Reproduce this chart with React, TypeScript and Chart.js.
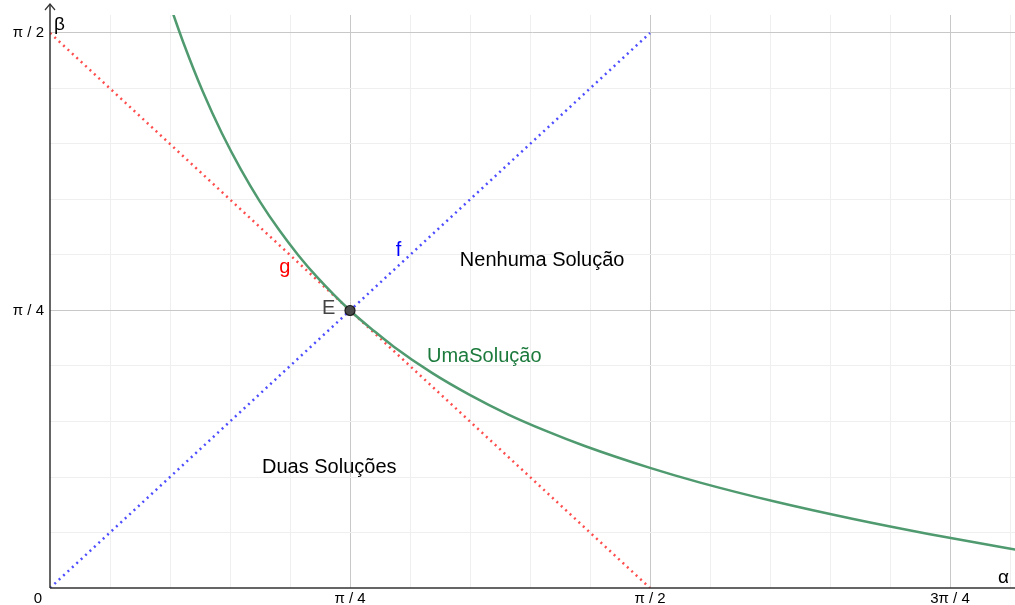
import React, { useEffect, useRef } from "react";
import { Chart, registerables } from "chart.js";

Chart.register(...registerables);

const PI = Math.PI;

// Curve "UmaSolução" (alpha, beta)
const curveAlpha = [0.32, 0.35, 0.4, 0.45, 0.5, 0.55, 0.6, 0.65, 0.7, 0.7854, 0.85, 0.9, 1.0, 1.1, 1.2, 1.3, 1.4, 1.5708, 1.7, 1.9, 2.1, 2.3, 2.5, 2.55];
const curveBeta = [1.632, 1.541, 1.405, 1.287, 1.184, 1.093, 1.013, 0.942, 0.879, 0.7854, 0.726, 0.683, 0.609, 0.546, 0.491, 0.444, 0.402, 0.34, 0.299, 0.244, 0.196, 0.153, 0.114, 0.104];

// Line f: beta = alpha
const fAlpha = [0, 1.5708];
const fBeta = [0, 1.5708];
// Line g: beta = pi/2 - alpha
const gAlpha = [0, 1.5708];
const gBeta = [1.5708, 0];

// Point E
const pointE = { x: 0.7854, y: 0.7854 };

// Tick labels
const xTickValues = [0, PI / 4, PI / 2, (3 * PI) / 4];
const xTickLabels = ["0", "π / 4", "π / 2", "3π / 4"];
const yTickValues = [PI / 4, PI / 2];
const yTickLabels = ["π / 4", "π / 2"];
const gridStep = PI / 20;

// Text annotations (value coordinates, left edge / vertical middle)
const annotations = [
  { text: "Nenhuma Solução", x: 1.073, y: 0.928, color: "#000000" },
  { text: "UmaSolução", x: 0.987, y: 0.654, color: "#1b7a3c" },
  { text: "Duas Soluções", x: 0.555, y: 0.342, color: "#000000" },
  { text: "f", x: 0.905, y: 0.954, color: "#0000ff" },
  { text: "g", x: 0.6, y: 0.906, color: "#ff0000" },
  { text: "E", x: 0.712, y: 0.79, color: "#444444" },
];

const X_MAX = (965 / 300) * (PI / 4);
const Y_MAX = (573 / 277.5) * (PI / 4);

export default function App() {
  const ref = useRef<HTMLCanvasElement | null>(null);

  useEffect(() => {
    document.body.style.margin = "0";
    const canvas = ref.current!;
    const font = "'Liberation Sans', Arial, sans-serif";

    const overlay = {
      id: "overlay",
      afterDatasetsDraw(chart: any) {
        const ctx = chart.ctx;
        const xs = chart.scales.x;
        const ys = chart.scales.y;
        const ox = xs.getPixelForValue(0);
        const oy = ys.getPixelForValue(0);
        ctx.save();
        // axes
        ctx.strokeStyle = "#333333";
        ctx.lineWidth = 1.5;
        ctx.beginPath();
        ctx.moveTo(ox, oy);
        ctx.lineTo(chart.width, oy);
        ctx.moveTo(ox, oy);
        ctx.lineTo(ox, 4);
        ctx.stroke();
        ctx.lineWidth = 1.2;
        ctx.beginPath();
        ctx.moveTo(ox - 5, 10);
        ctx.lineTo(ox, 4);
        ctx.lineTo(ox + 5, 10);
        ctx.stroke();
        // tick labels
        ctx.fillStyle = "#000000";
        ctx.font = `15px ${font}`;
        ctx.textAlign = "center";
        ctx.textBaseline = "middle";
        xTickValues.forEach((v, i) => {
          const px = xs.getPixelForValue(v);
          ctx.fillText(xTickLabels[i], i === 0 ? ox - 12 : px, oy + 11);
        });
        ctx.textAlign = "right";
        yTickValues.forEach((v, i) => {
          ctx.fillText(yTickLabels[i], ox - 6, ys.getPixelForValue(v));
        });
        // axis names
        ctx.font = `19px ${font}`;
        ctx.textAlign = "left";
        ctx.fillText("α", 998, oy - 10);
        ctx.fillText("β", ox + 4, 25);
        // annotations
        annotations.forEach((a) => {
          ctx.fillStyle = a.color;
          ctx.font = `20px ${font}`;
          ctx.textAlign = "left";
          ctx.textBaseline = "middle";
          ctx.fillText(a.text, xs.getPixelForValue(a.x), ys.getPixelForValue(a.y));
        });
        ctx.restore();
      },
    };

    const makeGridTicks = (scale: any, max: number) => {
      const ticks: any[] = [];
      for (let k = 0; k * gridStep <= max + 1e-9; k++) ticks.push({ value: k * gridStep });
      scale.ticks = ticks;
    };
    const gridColor = (c: any) => {
      const v = c.tick ? c.tick.value : 0;
      const r = v / (PI / 4);
      if (Math.abs(v) < 1e-9) return "rgba(0,0,0,0)";
      return Math.abs(r - Math.round(r)) < 1e-6 ? "#c8c8c8" : "#efefef";
    };

    const chart = new Chart(canvas, {
      type: "scatter",
      data: {
        datasets: [
          {
            label: "g",
            data: gAlpha.map((x, i) => ({ x, y: gBeta[i] })),
            showLine: true,
            borderColor: "#ff4d4d",
            borderWidth: 2.5,
            borderDash: [2, 4],
            pointRadius: 0,
            order: 3,
          },
          {
            label: "f",
            data: fAlpha.map((x, i) => ({ x, y: fBeta[i] })),
            showLine: true,
            borderColor: "#4d4dff",
            borderWidth: 2.5,
            borderDash: [2, 4],
            pointRadius: 0,
            order: 2,
          },
          {
            label: "UmaSolução",
            data: curveAlpha.map((x, i) => ({ x, y: curveBeta[i] })),
            showLine: true,
            borderColor: "#4f9a6f",
            borderWidth: 2.5,
            cubicInterpolationMode: "monotone",
            pointRadius: 0,
            order: 1,
          },
          {
            label: "E",
            data: [pointE],
            showLine: false,
            pointRadius: 5,
            pointBackgroundColor: "#4a4a4a",
            pointBorderColor: "#1a1a1a",
            pointBorderWidth: 1.2,
            order: 0,
          },
        ],
      },
      options: {
        animation: false,
        responsive: false,
        maintainAspectRatio: false,
        layout: { autoPadding: false, padding: { left: 50, top: 15, right: 0, bottom: 17 } },
        plugins: { legend: { display: false }, tooltip: { enabled: false } },
        scales: {
          x: {
            type: "linear",
            min: 0,
            max: X_MAX,
            display: true,
            afterBuildTicks: (s: any) => makeGridTicks(s, X_MAX),
            ticks: { display: false },
            border: { display: false },
            grid: { color: gridColor, lineWidth: 1, drawTicks: false },
          },
          y: {
            type: "linear",
            min: 0,
            max: Y_MAX,
            display: true,
            afterBuildTicks: (s: any) => makeGridTicks(s, Y_MAX),
            ticks: { display: false },
            border: { display: false },
            grid: { color: gridColor, lineWidth: 1, drawTicks: false },
          },
        },
      },
      plugins: [overlay],
    } as any);

    return () => chart.destroy();
  }, []);

  return (
    <div style={{ position: "fixed", left: 0, top: 0, width: 1015, height: 605, background: "#ffffff" }}>
      <canvas ref={ref} width={1015} height={605} style={{ width: 1015, height: 605, display: "block" }} />
    </div>
  );
}
